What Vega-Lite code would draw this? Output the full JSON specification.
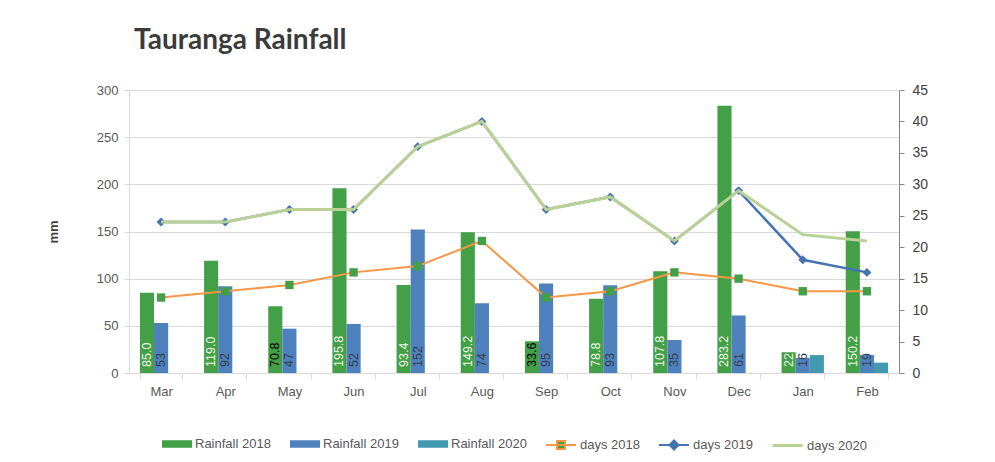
{
  "$schema": "https://vega.github.io/schema/vega-lite/v6.json",
  "width": 770,
  "height": 283,
  "autosize": {"type": "none"},
  "padding": {"left": 129, "top": 90, "right": 96, "bottom": 89},
  "background": "white",
  "title": {"text": "Tauranga Rainfall", "anchor": "start", "frame": "group", "dx": 5, "offset": 6, "baseline": "alphabetic", "font": "Lato", "fontSize": 28, "fontWeight": "bold", "color": "#3b3b3b"},
  "config": {
    "view": {"stroke": null},
    "legend": {"layout": {"bottom": {"anchor": "middle", "direction": "horizontal", "margin": 18}}}
  },
  "datasets": {
    "rain": [
      {"month": "Mar", "series": "Rainfall 2018", "mm": 85.0, "label": "85.0"},
      {"month": "Apr", "series": "Rainfall 2018", "mm": 119.0, "label": "119.0"},
      {"month": "May", "series": "Rainfall 2018", "mm": 70.8, "label": "70.8"},
      {"month": "Jun", "series": "Rainfall 2018", "mm": 195.8, "label": "195.8"},
      {"month": "Jul", "series": "Rainfall 2018", "mm": 93.4, "label": "93.4"},
      {"month": "Aug", "series": "Rainfall 2018", "mm": 149.2, "label": "149.2"},
      {"month": "Sep", "series": "Rainfall 2018", "mm": 33.6, "label": "33.6"},
      {"month": "Oct", "series": "Rainfall 2018", "mm": 78.8, "label": "78.8"},
      {"month": "Nov", "series": "Rainfall 2018", "mm": 107.8, "label": "107.8"},
      {"month": "Dec", "series": "Rainfall 2018", "mm": 283.2, "label": "283.2"},
      {"month": "Jan", "series": "Rainfall 2018", "mm": 22, "label": "22"},
      {"month": "Feb", "series": "Rainfall 2018", "mm": 150.2, "label": "150.2"},
      {"month": "Mar", "series": "Rainfall 2019", "mm": 53, "label": "53"},
      {"month": "Apr", "series": "Rainfall 2019", "mm": 92, "label": "92"},
      {"month": "May", "series": "Rainfall 2019", "mm": 47, "label": "47"},
      {"month": "Jun", "series": "Rainfall 2019", "mm": 52, "label": "52"},
      {"month": "Jul", "series": "Rainfall 2019", "mm": 152, "label": "152"},
      {"month": "Aug", "series": "Rainfall 2019", "mm": 74, "label": "74"},
      {"month": "Sep", "series": "Rainfall 2019", "mm": 95, "label": "95"},
      {"month": "Oct", "series": "Rainfall 2019", "mm": 93, "label": "93"},
      {"month": "Nov", "series": "Rainfall 2019", "mm": 35, "label": "35"},
      {"month": "Dec", "series": "Rainfall 2019", "mm": 61, "label": "61"},
      {"month": "Jan", "series": "Rainfall 2019", "mm": 16, "label": "16"},
      {"month": "Feb", "series": "Rainfall 2019", "mm": 19, "label": "19"},
      {"month": "Jan", "series": "Rainfall 2020", "mm": 19},
      {"month": "Feb", "series": "Rainfall 2020", "mm": 11}
    ],
    "days": [
      {"month": "Mar", "series": "days 2018", "days": 12},
      {"month": "Apr", "series": "days 2018", "days": 13},
      {"month": "May", "series": "days 2018", "days": 14},
      {"month": "Jun", "series": "days 2018", "days": 16},
      {"month": "Jul", "series": "days 2018", "days": 17},
      {"month": "Aug", "series": "days 2018", "days": 21},
      {"month": "Sep", "series": "days 2018", "days": 12},
      {"month": "Oct", "series": "days 2018", "days": 13},
      {"month": "Nov", "series": "days 2018", "days": 16},
      {"month": "Dec", "series": "days 2018", "days": 15},
      {"month": "Jan", "series": "days 2018", "days": 13},
      {"month": "Feb", "series": "days 2018", "days": 13},
      {"month": "Mar", "series": "days 2019", "days": 24},
      {"month": "Apr", "series": "days 2019", "days": 24},
      {"month": "May", "series": "days 2019", "days": 26},
      {"month": "Jun", "series": "days 2019", "days": 26},
      {"month": "Jul", "series": "days 2019", "days": 36},
      {"month": "Aug", "series": "days 2019", "days": 40},
      {"month": "Sep", "series": "days 2019", "days": 26},
      {"month": "Oct", "series": "days 2019", "days": 28},
      {"month": "Nov", "series": "days 2019", "days": 21},
      {"month": "Dec", "series": "days 2019", "days": 29},
      {"month": "Jan", "series": "days 2019", "days": 18},
      {"month": "Feb", "series": "days 2019", "days": 16},
      {"month": "Mar", "series": "days 2020", "days": 24},
      {"month": "Apr", "series": "days 2020", "days": 24},
      {"month": "May", "series": "days 2020", "days": 26},
      {"month": "Jun", "series": "days 2020", "days": 26},
      {"month": "Jul", "series": "days 2020", "days": 36},
      {"month": "Aug", "series": "days 2020", "days": 40},
      {"month": "Sep", "series": "days 2020", "days": 26},
      {"month": "Oct", "series": "days 2020", "days": 28},
      {"month": "Nov", "series": "days 2020", "days": 21},
      {"month": "Dec", "series": "days 2020", "days": 29},
      {"month": "Jan", "series": "days 2020", "days": 22},
      {"month": "Feb", "series": "days 2020", "days": 21}
    ]
  },
  "encoding": {
    "x": {
      "field": "month", "type": "nominal",
      "sort": ["Mar", "Apr", "May", "Jun", "Jul", "Aug", "Sep", "Oct", "Nov", "Dec", "Jan", "Feb"],
      "scale": {"paddingInner": 0.34, "paddingOuter": 0.17},
      "axis": {"title": null, "labelAngle": 0, "tickBand": "extent", "grid": false, "domainColor": "#d9d9d9", "tickColor": "#d9d9d9", "tickSize": 6, "labelColor": "#595959", "labelFont": "Liberation Sans", "labelFontSize": 13, "labelPadding": 6}
    }
  },
  "layer": [
    {
      "data": {"name": "rain"},
      "encoding": {
        "y": {
          "field": "mm", "type": "quantitative",
          "scale": {"domain": [0, 300], "nice": false},
          "axis": {"title": "mm", "values": [0, 50, 100, 150, 200, 250, 300], "grid": true, "gridColor": "#d9d9d9", "domainColor": "#d9d9d9", "tickColor": "#d9d9d9", "tickSize": 5, "labelPadding": 6, "labelColor": "#595959", "labelFont": "Liberation Sans", "labelFontSize": 13, "titleFont": "Liberation Sans", "titleFontSize": 13, "titleFontWeight": "bold", "titleColor": "#404040", "titleX": -76, "titleY": 141.5, "titleAngle": 270, "titleBaseline": "middle", "titleAlign": "center"}
        }
      },
      "layer": [
        {
          "mark": {"type": "bar"},
          "encoding": {
            "xOffset": {"field": "series", "type": "nominal", "scale": {"domain": ["Rainfall 2018", "Rainfall 2019", "Rainfall 2020"], "paddingInner": 0, "paddingOuter": 0}},
            "color": {
              "field": "series", "type": "nominal",
              "scale": {"domain": ["Rainfall 2018", "Rainfall 2019", "Rainfall 2020"], "range": ["#43A046", "#4F81BD", "#4299B0"]},
              "legend": {"title": null, "orient": "bottom", "direction": "horizontal", "offset": 31, "symbolType": "M-1,-0.25H1V0.25H-1Z", "symbolSize": 900, "symbolStrokeWidth": 0, "labelFont": "Liberation Sans", "labelFontSize": 13, "labelColor": "#595959", "columnPadding": 19, "labelOffset": 3}
            }
          }
        },
        {
          "transform": [{"filter": "isValid(datum.label)"}],
          "mark": {"type": "text", "angle": 270, "align": "left", "baseline": "middle", "dx": 6, "font": "Liberation Sans", "fontSize": 12.5},
          "encoding": {
            "xOffset": {"field": "series", "type": "nominal", "scale": {"domain": ["Rainfall 2018", "Rainfall 2019", "Rainfall 2020"], "paddingInner": 0, "paddingOuter": 0}},
            "y": {"datum": 0, "type": "quantitative"},
            "text": {"field": "label"},
            "color": {
              "condition": [
                {"test": "datum.series == 'Rainfall 2019'", "value": "#33404f"},
                {"test": "datum.label == '70.8' || datum.label == '33.6'", "value": "#000000"}
              ],
              "value": "#eef5e6"
            }
          }
        }
      ]
    },
    {
      "data": {"name": "days"},
      "encoding": {
        "y": {
          "field": "days", "type": "quantitative",
          "scale": {"domain": [0, 45], "nice": false},
          "axis": {"orient": "right", "title": null, "values": [0, 5, 10, 15, 20, 25, 30, 35, 40, 45], "grid": false, "domainColor": "#868686", "tickColor": "#868686", "tickSize": 5, "labelPadding": 8, "labelColor": "#404040", "labelFont": "Liberation Sans", "labelFontSize": 14}
        }
      },
      "layer": [
        {
          "transform": [{"filter": "datum.series == 'days 2018'"}],
          "mark": {"type": "line", "strokeWidth": 2},
          "encoding": {
            "color": {
              "field": "series", "type": "nominal",
              "scale": {"domain": ["days 2018"], "range": ["#F79646"]},
              "legend": {"title": null, "orient": "bottom", "offset": 31, "symbolType": "M-1,0H1M-0.27,-0.27H0.27V0.27H-0.27Z", "symbolSize": 900, "symbolStrokeWidth": 2, "labelFont": "Liberation Sans", "labelFontSize": 13, "labelColor": "#595959", "labelOffset": 3,
                "encode": {"symbols": {"update": {"fill": {"value": "#43A046"}, "stroke": {"value": "#F79646"}, "strokeWidth": {"value": 2}}}}}
            }
          }
        },
        {
          "transform": [{"filter": "datum.series == 'days 2018'"}],
          "mark": {"type": "point", "shape": "square", "filled": true, "size": 70, "color": "#43A046", "opacity": 1}
        },
        {
          "transform": [{"filter": "datum.series == 'days 2019'"}],
          "mark": {"type": "line", "strokeWidth": 2.5},
          "encoding": {
            "color": {
              "field": "series", "type": "nominal",
              "scale": {"domain": ["days 2019"], "range": ["#4472B4"]},
              "legend": {"title": null, "orient": "bottom", "offset": 31, "symbolType": "M-1,0H1M0,-0.3L0.3,0L0,0.3L-0.3,0Z", "symbolSize": 900, "symbolStrokeWidth": 2, "labelFont": "Liberation Sans", "labelFontSize": 13, "labelColor": "#595959", "labelOffset": 3,
                "encode": {"symbols": {"update": {"fill": {"value": "#4472B4"}, "stroke": {"value": "#4472B4"}, "strokeWidth": {"value": 2}}}}}
            }
          }
        },
        {
          "transform": [{"filter": "datum.series == 'days 2019'"}],
          "mark": {"type": "point", "shape": "diamond", "filled": true, "size": 80, "color": "#4472B4", "opacity": 1}
        },
        {
          "transform": [{"filter": "datum.series == 'days 2020'"}],
          "mark": {"type": "line", "strokeWidth": 3},
          "encoding": {
            "color": {
              "field": "series", "type": "nominal",
              "scale": {"domain": ["days 2020"], "range": ["#B9D195"]},
              "legend": {"title": null, "orient": "bottom", "offset": 31, "symbolType": "M-1,0H1", "symbolSize": 900, "symbolStrokeWidth": 3, "labelFont": "Liberation Sans", "labelFontSize": 13, "labelColor": "#595959", "labelOffset": 3,
                "encode": {"symbols": {"update": {"stroke": {"value": "#B9D195"}, "strokeWidth": {"value": 3}}}}}
            }
          }
        }
      ],
      "resolve": {"scale": {"color": "independent"}}
    }
  ],
  "resolve": {"scale": {"y": "independent", "color": "independent"}}
}
